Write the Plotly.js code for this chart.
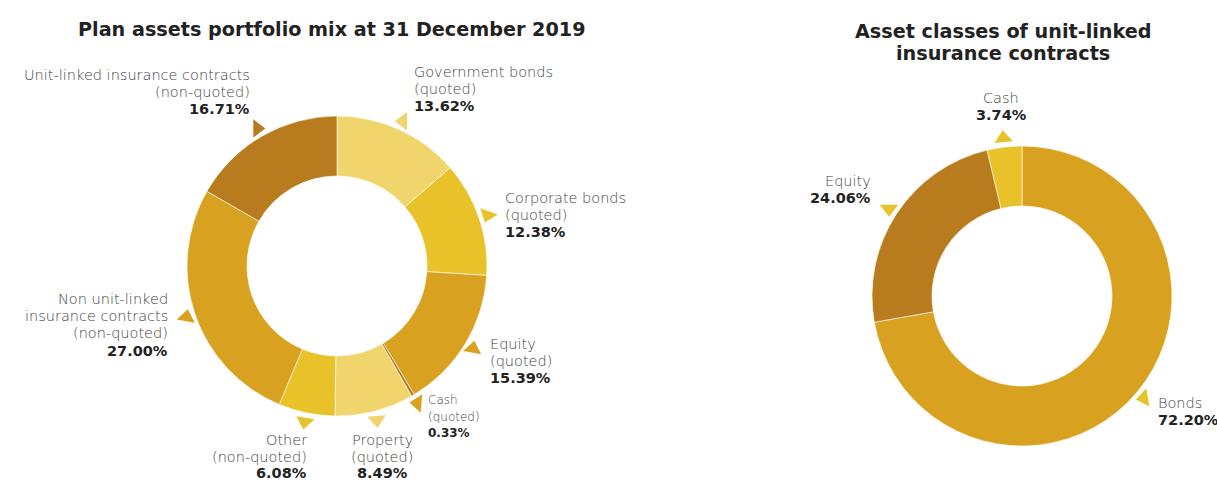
<!DOCTYPE html>
<html>
<head>
<meta charset="utf-8">
<script src="https://cdn.plot.ly/plotly-3.0.1.min.js"></script>
<style>html,body{margin:0;padding:0;background:#fff;}#chart{width:1217px;height:482px;}</style>
</head>
<body>
<div id="chart"></div>
<script>
// ---- data ----
const planCategories = ['Government bonds', 'Corporate bonds', 'Equity', 'Cash', 'Property', 'Other', 'Non unit-linked insurance contracts', 'Unit-linked insurance contracts'];
const planLabelText = [
  ['Government bonds', '(quoted)'],
  ['Corporate bonds', '(quoted)'],
  ['Equity', '(quoted)'],
  ['Cash', '(quoted)'],
  ['Property', '(quoted)'],
  ['Other', '(non-quoted)'],
  ['Non unit-linked', 'insurance contracts', '(non-quoted)'],
  ['Unit-linked insurance contracts', '(non-quoted)']
];
const planValues = [13.62, 12.38, 15.39, 0.33, 8.49, 6.08, 27.00, 16.71];

const ulCategories = ['Bonds', 'Equity', 'Cash'];
const ulValues = [72.20, 24.06, 3.74];

const titleLines = [['Plan assets portfolio mix at 31 December 2019'], ['Asset classes of unit-linked', 'insurance contracts']];

// ---- styles / layout ----
const W = 1217, H = 482;
const C_LIGHT = '#F0D46C', C_YEL = '#E8C228', C_GOLD = '#D9A120', C_BROWN = '#B87B1E';
const planColors = [C_LIGHT, C_YEL, C_GOLD, C_BROWN, C_LIGHT, C_YEL, C_GOLD, C_BROWN];
const planPointerColors = [C_LIGHT, C_YEL, C_GOLD, C_GOLD, C_LIGHT, C_YEL, C_GOLD, C_BROWN];
const planPointerRot = [270, 200, 10, 275, 175, 190, 10, 90];
const ulColors = [C_GOLD, C_BROWN, C_YEL];
const ulPointerColors = [C_YEL, C_YEL, C_YEL];
const ulPointerRot = [260, 180, 355];

const pies = [
  {cx: 337, cy: 266, R: 150},
  {cx: 1022, cy: 296, R: 150}
];

// label blocks: [x, y of first line centre, xanchor, fontSize, line gap]
const planLabelPos = [
  [413, 72, 'left', 14.5, 17],
  [504, 198, 'left', 14.5, 17],
  [489, 344, 'left', 14.5, 17],
  [427, 400, 'left', 12, 16.5],
  [382, 440, 'center', 14.5, 16.6],
  [308, 440, 'right', 14.5, 16.6],
  [169, 299, 'right', 14.5, 17.2],
  [251, 75, 'right', 14.5, 17]
];
const ulLabelPos = [
  [1157, 403, 'left', 14.5, 17],
  [872, 181, 'right', 14.5, 17],
  [1001, 98, 'center', 14.5, 17]
];

function domainOf(p) {
  return {
    x: [(p.cx - p.R) / W, (p.cx + p.R) / W],
    y: [(H - p.cy - p.R) / H, (H - p.cy + p.R) / H]
  };
}

function pointers(values, p, colors, rots) {
  const total = values.reduce((a, b) => a + b, 0);
  let cum = 0;
  const xs = [], ys = [];
  values.forEach(v => {
    const mid = (cum + v / 2) / total;
    cum += v;
    const th = mid * 2 * Math.PI;
    const r = p.R + 9;
    xs.push(p.cx + r * Math.sin(th));
    ys.push(p.cy - r * Math.cos(th));
  });
  return {
    type: 'scatter', mode: 'markers', x: xs, y: ys, hoverinfo: 'skip', showlegend: false,
    marker: {symbol: 'triangle-up', size: 16, color: colors, angle: rots, line: {width: 0}}
  };
}

function pieTrace(labels, values, colors, p) {
  return {
    type: 'pie', labels: labels, values: values, sort: false, direction: 'clockwise', rotation: 0,
    hole: 0.6, textinfo: 'none', hoverinfo: 'label+percent', showlegend: false,
    marker: {colors: colors, line: {color: '#ffffff', width: 0.6}},
    domain: domainOf(p)
  };
}

const FAMILY = '"DejaVu Sans", sans-serif';
const annotations = [];
function addLabel(lines, value, pos) {
  const all = lines.map(t => ({t: t, bold: false})).concat([{t: value.toFixed(2) + '%', bold: true}]);
  all.forEach((ln, k) => {
    annotations.push({
      xref: 'x', yref: 'y', x: pos[0], y: pos[1] + k * pos[4], xanchor: pos[2], yanchor: 'middle',
      text: ln.t, showarrow: false, borderpad: 0,
      font: {family: FAMILY, size: pos[3], color: ln.bold ? '#222222' : '#3f3f3f', weight: ln.bold ? 700 : 300}
    });
  });
}
planValues.forEach((v, i) => addLabel(planLabelText[i], v, planLabelPos[i]));
ulValues.forEach((v, i) => addLabel([ulCategories[i]], v, ulLabelPos[i]));

const titleFont = {family: '"DejaVu Sans", sans-serif', size: 19.2, color: '#222222', weight: 700};
const titlePos = [[332, 29], [1003, 31]];
titleLines.forEach((lines, i) => lines.forEach((t, k) => annotations.push({
  xref: 'x', yref: 'y', x: titlePos[i][0], y: titlePos[i][1] + k * 22.5, xanchor: 'center', yanchor: 'middle',
  text: t, showarrow: false, borderpad: 0, font: titleFont
})));

const data = [
  pointers(planValues, pies[0], planPointerColors, planPointerRot),
  pointers(ulValues, pies[1], ulPointerColors, ulPointerRot),
  pieTrace(planCategories, planValues, planColors, pies[0]),
  pieTrace(ulCategories, ulValues, ulColors, pies[1])
];

const layout = {
  width: W, height: H,
  margin: {l: 0, r: 0, t: 0, b: 0, pad: 0},
  paper_bgcolor: '#ffffff', plot_bgcolor: 'rgba(0,0,0,0)',
  xaxis: {range: [0, W], domain: [0, 1], visible: false, fixedrange: true},
  yaxis: {range: [H, 0], domain: [0, 1], visible: false, fixedrange: true},
  showlegend: false,
  annotations: annotations
};

Plotly.newPlot('chart', data, layout, {staticPlot: true, displayModeBar: false});
</script>
</body>
</html>
